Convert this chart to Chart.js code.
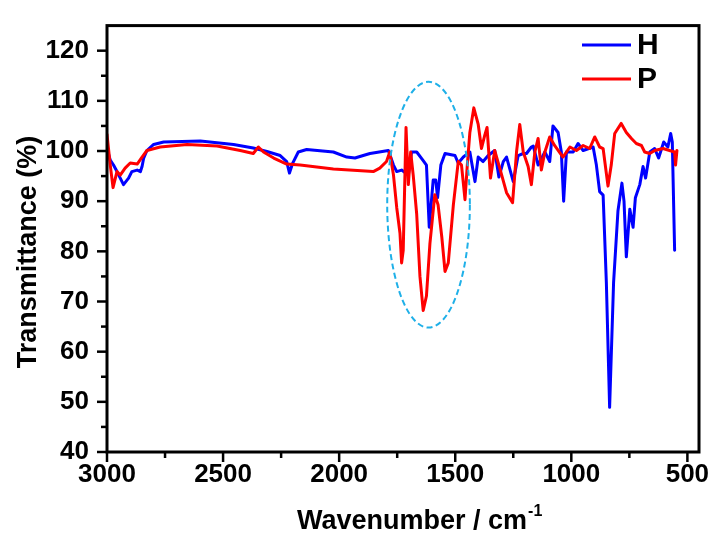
<!DOCTYPE html>
<html>
<head>
<meta charset="utf-8">
<script src="https://cdn.jsdelivr.net/npm/chart.js@4.4.1/dist/chart.umd.min.js"></script>
<style>
  html, body { margin: 0; padding: 0; background: #fff; }
  #wrap { width: 716px; height: 534px; }
</style>
</head>
<body>
<div id="wrap"><canvas id="grafico" width="716" height="534"></canvas></div>
<script>
// ================================
// DATOS (leidos del espectro)
// ================================
const nombresSeries = ["H", "P"];

// Serie H (azul)
const numOndaH = [3000, 2986, 2972, 2957, 2929, 2907, 2893, 2870, 2856, 2849, 2842, 2828, 2799, 2756, 2598,
  2455, 2370, 2311, 2254, 2226, 2214, 2200, 2176, 2140, 2025, 1967, 1932, 1882, 1867, 1788,
  1766, 1752, 1731, 1702, 1688, 1666, 1638, 1624, 1612, 1595, 1584, 1576, 1562, 1544, 1501,
  1487, 1465, 1437, 1415, 1401, 1380, 1358, 1330, 1312, 1293, 1279, 1250, 1229, 1207, 1193,
  1172, 1164, 1143, 1114, 1093, 1079, 1057, 1043, 1033, 1021, 992, 971, 949, 906, 892,
  878, 863, 849, 835, 818, 799, 782, 773, 763, 748, 734, 724, 705, 691, 680,
  662, 641, 624, 602, 584, 572, 565, 555];
const transH = [100.5, 98.2, 97.2, 95.9, 93.3, 94.6, 95.9, 96.2, 95.9, 96.9, 98.6, 100.1, 101.3, 101.8, 102.0,
  101.3, 100.6, 99.9, 99.1, 97.9, 95.6, 97.6, 99.8, 100.3, 99.8, 98.8, 98.6, 99.3, 99.5, 100.1,
  97.2, 95.9, 96.2, 95.2, 99.8, 99.8, 98.1, 97.2, 84.8, 94.2, 94.2, 90.7, 97.2, 99.5, 99.1,
  97.6, 98.8, 99.8, 93.9, 98.8, 97.9, 99.1, 100.1, 94.8, 97.9, 98.8, 93.9, 99.1, 99.5, 99.5,
  100.8, 101.0, 97.2, 99.8, 97.9, 105.0, 103.7, 99.8, 90.0, 99.8, 99.8, 101.5, 100.1, 100.8, 97.2,
  91.9, 91.2, 73.7, 48.9, 73.7, 88.1, 93.6, 90.0, 78.9, 88.4, 84.8, 90.7, 93.3, 96.9, 94.6,
  99.8, 100.5, 98.6, 101.8, 100.8, 103.5, 101.8, 80.2];

// Serie P (roja)
const numOndaP = [3000, 2986, 2974, 2957, 2943, 2922, 2900, 2870, 2849, 2828, 2771, 2655, 2526, 2426, 2370,
  2348, 2326, 2282, 2226, 2168, 2025, 1853, 1825, 1796, 1782, 1766, 1752, 1738, 1731, 1724,
  1712, 1702, 1692, 1681, 1666, 1652, 1638, 1624, 1609, 1588, 1574, 1558, 1544, 1530, 1508,
  1487, 1473, 1458, 1448, 1437, 1420, 1401, 1387, 1373, 1363, 1348, 1330, 1307, 1279, 1253,
  1236, 1222, 1207, 1186, 1172, 1157, 1143, 1129, 1114, 1093, 1072, 1036, 1006, 978, 949,
  921, 899, 878, 863, 842, 828, 813, 785, 763, 741, 720, 698, 684, 662, 641,
  605, 577, 555, 551, 545];
const transP = [103.3, 97.2, 92.7, 95.9, 95.2, 96.6, 97.6, 97.4, 98.8, 100.1, 100.8, 101.3, 101.0, 100.1, 99.5,
  100.8, 99.8, 98.6, 97.4, 97.2, 96.4, 95.9, 96.6, 97.9, 99.8, 95.2, 88.7, 83.6, 77.7, 80.2,
  104.7, 93.3, 99.8, 95.2, 87.4, 75.0, 68.2, 71.1, 81.6, 91.3, 89.3, 82.9, 76.0, 77.7, 89.3,
  97.9, 97.2, 90.3, 97.2, 103.7, 108.6, 105.3, 100.5, 103.1, 104.7, 94.6, 100.1, 96.4, 91.7, 89.7,
  99.8, 105.3, 99.8, 96.9, 93.3, 99.8, 102.5, 96.2, 99.8, 102.8, 101.1, 98.8, 100.8, 100.1, 101.1,
  100.5, 102.8, 100.8, 100.5, 93.0, 97.2, 103.5, 105.5, 103.7, 102.5, 101.5, 101.1, 99.8, 99.5, 100.1,
  100.5, 100.1, 99.8, 97.2, 100.1];

// Marcas de ejes
const xTicks = [3000, 2500, 2000, 1500, 1000, 500];
const xMenores = [2750, 2250, 1750, 1250, 750];
const yTicks = [40, 50, 60, 70, 80, 90, 100, 110, 120];
const yMenores = [45, 55, 65, 75, 85, 95, 105, 115];

// Zona resaltada (elipse punteada), en unidades de datos
const zonaCentro = [1615, 89.3];
const zonaRadio = [178, 24.5];

// ================================
// ESTILO
// ================================
const FUENTE = '"Liberation Sans", Arial, sans-serif';
const colores = ["#0000ff", "#ff0000"];

const aPuntos = (xs, ys) => xs.map((v, i) => ({ x: v, y: ys[i] }));

// ================================
// PLUGIN: marco, marcas, leyenda, titulos, elipse
// ================================
const marcoFTIR = {
  id: "marcoFTIR",
  afterDatasetsDraw(chart) {
    const { ctx, chartArea: a } = chart;
    const x = chart.scales.x;
    const y = chart.scales.y;
    ctx.save();

    // --- elipse punteada ---
    const cx = x.getPixelForValue(zonaCentro[0]);
    const cy = y.getPixelForValue(zonaCentro[1]);
    const rx = Math.abs(x.getPixelForValue(zonaCentro[0] + zonaRadio[0]) - cx);
    const ry = Math.abs(y.getPixelForValue(zonaCentro[1] + zonaRadio[1]) - cy);
    ctx.setLineDash([6, 3.5]);
    ctx.lineWidth = 2;
    ctx.strokeStyle = "#1fb0e8";
    ctx.beginPath();
    ctx.ellipse(cx, cy, rx, ry, 0, 0, Math.PI * 2);
    ctx.stroke();
    ctx.setLineDash([]);

    // --- marco ---
    ctx.strokeStyle = "#000";
    ctx.lineWidth = 3;
    ctx.strokeRect(a.left, a.top, a.right - a.left, a.bottom - a.top);

    const linea = (x1, y1, x2, y2) => {
      ctx.beginPath(); ctx.moveTo(x1, y1); ctx.lineTo(x2, y2); ctx.stroke();
    };
    ctx.lineWidth = 2.5;
    xTicks.forEach((v) => { const p = x.getPixelForValue(v); linea(p, a.bottom, p, a.bottom + 10); });
    xMenores.forEach((v) => { const p = x.getPixelForValue(v); linea(p, a.bottom, p, a.bottom + 6); });
    yTicks.forEach((v) => { const p = y.getPixelForValue(v); linea(a.left - 10, p, a.left, p); });
    yMenores.forEach((v) => { const p = y.getPixelForValue(v); linea(a.left - 6, p, a.left, p); });

    // --- leyenda ---
    ctx.font = "bold 30px " + FUENTE;
    ctx.fillStyle = "#000";
    ctx.textAlign = "left";
    ctx.textBaseline = "alphabetic";
    nombresSeries.forEach((nombre, i) => {
      const ly = 45 + i * 34;
      ctx.strokeStyle = colores[i];
      ctx.lineWidth = 3;
      linea(582, ly, 631, ly);
      ctx.fillText(nombre, 637, ly + 8.5);
    });

    // --- titulos de ejes ---
    ctx.font = "bold 27px " + FUENTE;
    ctx.textAlign = "center";
    ctx.textBaseline = "middle";
    ctx.save();
    ctx.translate(29, 252);
    ctx.rotate(-Math.PI / 2);
    ctx.fillText("Transmittance (%)", 0, 0);
    ctx.restore();

    ctx.textAlign = "left";
    ctx.textBaseline = "alphabetic";
    const titulo = "Wavenumber / cm";
    ctx.fillText(titulo, 297, 529);
    const ancho = ctx.measureText(titulo).width;
    ctx.font = "bold 16px " + FUENTE;
    ctx.fillText("-1", 297 + ancho + 1, 516);

    ctx.restore();
  },
};

// ================================
// GRAFICO
// ================================
const ctxGrafico = document.getElementById("grafico");

new Chart(ctxGrafico, {
  type: "line",
  data: {
    datasets: [
      {
        label: nombresSeries[0],
        data: aPuntos(numOndaH, transH),
        borderColor: colores[0],
        borderWidth: 3,
        pointRadius: 0,
        tension: 0,
        order: 2,
      },
      {
        label: nombresSeries[1],
        data: aPuntos(numOndaP, transP),
        borderColor: colores[1],
        borderWidth: 3,
        pointRadius: 0,
        tension: 0,
        order: 1,
      },
    ],
  },
  options: {
    responsive: false,
    animation: false,
    devicePixelRatio: 1,
    layout: { padding: { left: 0, top: 16, right: 17, bottom: 0 } },
    plugins: { legend: { display: false }, tooltip: { enabled: false } },
    elements: { line: { borderJoinStyle: "round", borderCapStyle: "round" } },
    scales: {
      x: {
        type: "linear",
        reverse: true,
        min: 450,
        max: 3000,
        grid: { display: false },
        border: { display: false },
        afterBuildTicks: (s) => { s.ticks = xTicks.map((v) => ({ value: v })); },
        afterFit: (s) => { s.height = 82; },
        ticks: {
          autoSkip: false,
          maxRotation: 0,
          padding: -1,
          color: "#000",
          font: { family: FUENTE, size: 26, weight: "bold" },
          callback: (v) => String(v),
        },
      },
      y: {
        min: 40,
        max: 125,
        grid: { display: false },
        border: { display: false },
        afterBuildTicks: (s) => { s.ticks = yTicks.map((v) => ({ value: v })); },
        afterFit: (s) => { s.width = 107; },
        ticks: {
          padding: 10,
          color: "#000",
          font: { family: FUENTE, size: 26, weight: "bold" },
          callback: (v) => String(v),
        },
      },
    },
  },
  plugins: [marcoFTIR],
});
</script>
</body>
</html>
